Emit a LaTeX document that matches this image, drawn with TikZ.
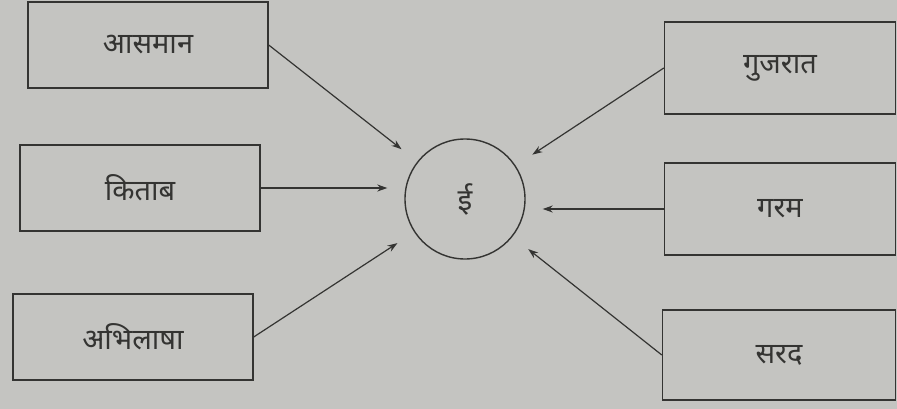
\documentclass[tikz,border=0pt]{standalone}
\usepackage{fontspec}
\newfontfamily\devfont[Script=Devanagari]{Noto Sans}
\usetikzlibrary{arrows.meta}
\definecolor{paper}{RGB}{196,196,193}
\definecolor{ink}{RGB}{52,52,50}

\begin{document}
\begin{tikzpicture}[x=1pt,y=-1pt,
  word/.style={draw=ink, line width=1.4pt, minimum width=240pt, minimum height=86pt,
    font=\devfont\fontsize{29}{34}\selectfont, text=ink},
  link/.style={draw=ink, line width=1.2pt, -{Stealth[length=10pt,width=7pt]}, shorten >=20pt}]
\fill[paper] (0,0) rectangle (897,409);
\useasboundingbox (0,0) rectangle (897,409);

% left column
\node[word] (sky) at (148,45) {आसमान};
\node[word] (book) at (140,188) {किताब};
\node[word] (wish) at (133,337) {अभिलाषा};

% right column
\node[word, minimum width=231pt, minimum height=92pt] (guj) at (780,68) {गुजरात};
\node[word, minimum width=231pt, minimum height=92pt] (hot) at (780,209) {गरम};
\node[word, minimum width=233pt, minimum height=90pt] (cold) at (779,355) {सरद};

% centre
\node[circle, draw=ink, line width=1.4pt, minimum size=120pt, inner sep=0pt,
  font=\devfont\fontsize{30}{34}\selectfont, text=ink] (ee) at (465,199) {ई};

\draw[link] (sky.east) -- (ee);
\draw[link, shorten >=17pt] (book.east) -- (book.east -| ee.west);
\draw[link] (wish.east) -- (ee);
\draw[link] (guj.west) -- (ee);
\draw[link, shorten >=17pt] (hot.west) -- (hot.west -| ee.east);
\draw[link] (cold.west) -- (ee);
\end{tikzpicture}
\end{document}
